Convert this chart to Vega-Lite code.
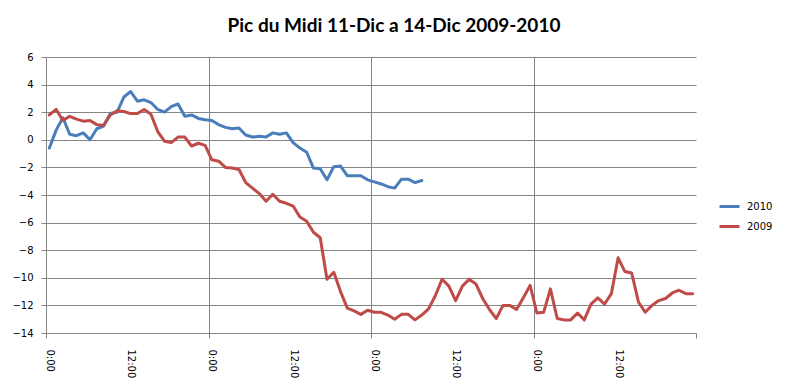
{
  "$schema": "https://vega.github.io/schema/vega-lite/v6.json",
  "autosize": {"type": "none"},
  "width": 650,
  "height": 276,
  "padding": {"left": 46, "top": 57, "right": 92, "bottom": 59},
  "background": "white",
  "config": {"view": {"stroke": null}, "font": "Liberation Sans"},
  "title": {"text": "Pic du Midi 11-Dic a 14-Dic 2009-2010", "font": "Lato", "fontSize": 19, "fontWeight": "bold", "color": "black", "anchor": "middle", "dx": 23, "offset": 16},
  "data": {"values": [
    {"h":0,"s":"2010","t":-0.6},{"h":1,"s":"2010","t":0.7},{"h":2,"s":"2010","t":1.6},{"h":3,"s":"2010","t":0.4},{"h":4,"s":"2010","t":0.3},{"h":5,"s":"2010","t":0.5},{"h":6,"s":"2010","t":0.0},{"h":7,"s":"2010","t":0.8},{"h":8,"s":"2010","t":1.0},{"h":9,"s":"2010","t":1.9},
    {"h":10,"s":"2010","t":2.0},{"h":11,"s":"2010","t":3.1},{"h":12,"s":"2010","t":3.5},{"h":13,"s":"2010","t":2.8},{"h":14,"s":"2010","t":2.9},{"h":15,"s":"2010","t":2.7},{"h":16,"s":"2010","t":2.2},{"h":17,"s":"2010","t":2.0},{"h":18,"s":"2010","t":2.4},{"h":19,"s":"2010","t":2.6},
    {"h":20,"s":"2010","t":1.7},{"h":21,"s":"2010","t":1.8},{"h":22,"s":"2010","t":1.55},{"h":23,"s":"2010","t":1.45},{"h":24,"s":"2010","t":1.4},{"h":25,"s":"2010","t":1.1},{"h":26,"s":"2010","t":0.9},{"h":27,"s":"2010","t":0.8},{"h":28,"s":"2010","t":0.85},{"h":29,"s":"2010","t":0.35},
    {"h":30,"s":"2010","t":0.2},{"h":31,"s":"2010","t":0.25},{"h":32,"s":"2010","t":0.2},{"h":33,"s":"2010","t":0.5},{"h":34,"s":"2010","t":0.4},{"h":35,"s":"2010","t":0.5},{"h":36,"s":"2010","t":-0.2},{"h":37,"s":"2010","t":-0.6},{"h":38,"s":"2010","t":-0.9},{"h":39,"s":"2010","t":-2.05},
    {"h":40,"s":"2010","t":-2.1},{"h":41,"s":"2010","t":-2.9},{"h":42,"s":"2010","t":-1.95},{"h":43,"s":"2010","t":-1.9},{"h":44,"s":"2010","t":-2.6},{"h":45,"s":"2010","t":-2.6},{"h":46,"s":"2010","t":-2.6},{"h":47,"s":"2010","t":-2.9},{"h":48,"s":"2010","t":-3.05},{"h":49,"s":"2010","t":-3.2},
    {"h":50,"s":"2010","t":-3.4},{"h":51,"s":"2010","t":-3.5},{"h":52,"s":"2010","t":-2.85},{"h":53,"s":"2010","t":-2.85},{"h":54,"s":"2010","t":-3.1},{"h":55,"s":"2010","t":-2.95},
    {"h":0,"s":"2009","t":1.8},{"h":1,"s":"2009","t":2.2},{"h":2,"s":"2009","t":1.4},{"h":3,"s":"2009","t":1.7},{"h":4,"s":"2009","t":1.5},{"h":5,"s":"2009","t":1.35},{"h":6,"s":"2009","t":1.4},{"h":7,"s":"2009","t":1.1},{"h":8,"s":"2009","t":1.05},{"h":9,"s":"2009","t":1.8},
    {"h":10,"s":"2009","t":2.1},{"h":11,"s":"2009","t":2.05},{"h":12,"s":"2009","t":1.9},{"h":13,"s":"2009","t":1.9},{"h":14,"s":"2009","t":2.2},{"h":15,"s":"2009","t":1.85},{"h":16,"s":"2009","t":0.6},{"h":17,"s":"2009","t":-0.1},{"h":18,"s":"2009","t":-0.2},{"h":19,"s":"2009","t":0.2},
    {"h":20,"s":"2009","t":0.2},{"h":21,"s":"2009","t":-0.45},{"h":22,"s":"2009","t":-0.25},{"h":23,"s":"2009","t":-0.4},{"h":24,"s":"2009","t":-1.45},{"h":25,"s":"2009","t":-1.55},{"h":26,"s":"2009","t":-2.0},{"h":27,"s":"2009","t":-2.05},{"h":28,"s":"2009","t":-2.15},{"h":29,"s":"2009","t":-3.1},
    {"h":30,"s":"2009","t":-3.5},{"h":31,"s":"2009","t":-3.9},{"h":32,"s":"2009","t":-4.45},{"h":33,"s":"2009","t":-3.95},{"h":34,"s":"2009","t":-4.45},{"h":35,"s":"2009","t":-4.6},{"h":36,"s":"2009","t":-4.8},{"h":37,"s":"2009","t":-5.6},{"h":38,"s":"2009","t":-5.9},{"h":39,"s":"2009","t":-6.7},
    {"h":40,"s":"2009","t":-7.1},{"h":41,"s":"2009","t":-10.1},{"h":42,"s":"2009","t":-9.6},{"h":43,"s":"2009","t":-11.0},{"h":44,"s":"2009","t":-12.2},{"h":45,"s":"2009","t":-12.4},{"h":46,"s":"2009","t":-12.65},{"h":47,"s":"2009","t":-12.35},{"h":48,"s":"2009","t":-12.5},{"h":49,"s":"2009","t":-12.5},
    {"h":50,"s":"2009","t":-12.7},{"h":51,"s":"2009","t":-13.0},{"h":52,"s":"2009","t":-12.65},{"h":53,"s":"2009","t":-12.65},{"h":54,"s":"2009","t":-13.05},{"h":55,"s":"2009","t":-12.7},{"h":56,"s":"2009","t":-12.25},{"h":57,"s":"2009","t":-11.3},{"h":58,"s":"2009","t":-10.1},{"h":59,"s":"2009","t":-10.6},
    {"h":60,"s":"2009","t":-11.65},{"h":61,"s":"2009","t":-10.6},{"h":62,"s":"2009","t":-10.1},{"h":63,"s":"2009","t":-10.45},{"h":64,"s":"2009","t":-11.5},{"h":65,"s":"2009","t":-12.3},{"h":66,"s":"2009","t":-12.95},{"h":67,"s":"2009","t":-12.0},{"h":68,"s":"2009","t":-12.0},{"h":69,"s":"2009","t":-12.3},
    {"h":70,"s":"2009","t":-11.45},{"h":71,"s":"2009","t":-10.55},{"h":72,"s":"2009","t":-12.55},{"h":73,"s":"2009","t":-12.5},{"h":74,"s":"2009","t":-10.8},{"h":75,"s":"2009","t":-12.95},{"h":76,"s":"2009","t":-13.05},{"h":77,"s":"2009","t":-13.05},{"h":78,"s":"2009","t":-12.55},{"h":79,"s":"2009","t":-13.05},
    {"h":80,"s":"2009","t":-11.9},{"h":81,"s":"2009","t":-11.45},{"h":82,"s":"2009","t":-11.9},{"h":83,"s":"2009","t":-11.15},{"h":84,"s":"2009","t":-8.55},{"h":85,"s":"2009","t":-9.55},{"h":86,"s":"2009","t":-9.65},{"h":87,"s":"2009","t":-11.75},{"h":88,"s":"2009","t":-12.5},{"h":89,"s":"2009","t":-12.0},
    {"h":90,"s":"2009","t":-11.65},{"h":91,"s":"2009","t":-11.5},{"h":92,"s":"2009","t":-11.1},{"h":93,"s":"2009","t":-10.9},{"h":94,"s":"2009","t":-11.15},{"h":95,"s":"2009","t":-11.15}
  ]},
  "mark": {"type": "line", "strokeWidth": 3, "strokeJoin": "round", "strokeCap": "round"},
  "encoding": {
    "x": {
      "field": "h", "type": "quantitative",
      "scale": {"domain": [-0.5, 95.5], "nice": false, "zero": false},
      "axis": {
        "title": null,
        "values": [-0.5, 0, 12, 23.5, 24, 36, 47.5, 48, 60, 71.5, 72, 84, 95.5],
        "labelExpr": "datum.value % 24 == 0 ? '0:00' : (datum.value % 12 == 0 ? '12:00' : '')",
        "labelAngle": 90, "labelAlign": "left", "labelBaseline": "middle",
        "labelFontSize": 10, "labelColor": "black", "labelFont": "DejaVu Sans",
        "labelOverlap": false, "labelFlush": false, "labelBound": false,
        "labelPadding": 11,
        "tickSize": 5, "tickColor": "#868686",
        "tickOpacity": {"condition": {"test": "datum.value % 1 != 0", "value": 1}, "value": 0},
        "grid": true, "gridColor": "#868686", "gridWidth": 1,
        "gridOpacity": {"condition": {"test": "datum.value % 1 != 0 && datum.value > 0 && datum.value < 95", "value": 1}, "value": 0},
        "domainColor": "#868686"
      }
    },
    "y": {
      "field": "t", "type": "quantitative",
      "scale": {"domain": [-14, 6], "nice": false, "zero": false},
      "axis": {
        "title": null,
        "values": [-14, -12, -10, -8, -6, -4, -2, 0, 2, 4, 6],
        "labelFontSize": 10, "labelColor": "black", "labelFont": "DejaVu Sans",
        "labelPadding": 8, "tickSize": 5, "tickColor": "#868686",
        "grid": true, "gridColor": "#868686", "gridWidth": 1,
        "domainColor": "#868686"
      }
    },
    "color": {
      "field": "s", "type": "nominal",
      "scale": {"domain": ["2010", "2009"], "range": ["#4A7EBB", "#BE4B48"]},
      "legend": {
        "title": null, "orient": "none", "legendX": 672, "legendY": 138,
        "symbolType": "stroke", "symbolSize": 400, "symbolStrokeWidth": 3,
        "labelFontSize": 10, "labelColor": "black", "labelFont": "DejaVu Sans",
        "rowPadding": 2, "labelOffset": 6
      }
    }
  }
}
